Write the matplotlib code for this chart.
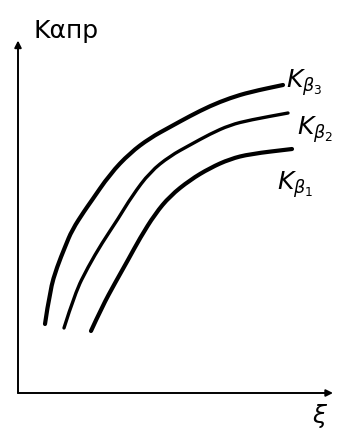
import matplotlib.pyplot as plt
from matplotlib.path import Path
from matplotlib.patches import PathPatch

plt.rcParams['mathtext.fontset'] = 'dejavusans'

# three curves K_alpha_pr(xi) for different K_beta
xi_b3 = [0.9, 1.067, 1.3, 1.567, 1.8, 2.233, 2.4, 3.067, 3.733, 4.4, 5.067,
         5.733, 6.4, 7.067, 7.733, 8.833]
k_b3 = [2.3, 3.433, 4.2, 4.867, 5.433, 6.1, 6.333, 7.3, 8.0, 8.5, 8.867,
        9.233, 9.567, 9.833, 10.033, 10.267]

xi_b2 = [1.533, 1.9, 2.333, 2.8, 3.333, 3.8, 4.4, 5.067, 5.733, 6.4, 7.067,
         7.733, 9.0]
k_b2 = [2.167, 3.333, 4.2, 5.0, 5.8, 6.567, 7.367, 7.9, 8.267, 8.633, 8.933,
        9.1, 9.333]

xi_b1 = [2.433, 2.8, 3.233, 3.667, 4.067, 4.567, 5.067, 5.733, 6.4, 7.067,
         7.733, 9.133]
k_b1 = [2.067, 2.867, 3.667, 4.433, 5.167, 5.967, 6.567, 7.1, 7.5, 7.8,
        7.967, 8.133]


def smooth_curve(ax, xs, ys, lw):
    # quadratic bezier through midpoints, points act as control points
    pts = list(zip(xs, ys))
    verts = [pts[0]]
    codes = [Path.MOVETO]
    for i in range(1, len(pts) - 1):
        mid = ((pts[i][0] + pts[i + 1][0]) / 2, (pts[i][1] + pts[i + 1][1]) / 2)
        verts += [pts[i], mid]
        codes += [Path.CURVE3, Path.CURVE3]
    verts.append(pts[-1])
    codes.append(Path.LINETO)
    ax.add_patch(PathPatch(Path(verts, codes), fill=False, edgecolor='black',
                           lw=lw, capstyle='round', joinstyle='round'))


fig = plt.figure(figsize=(3.37, 4.41), dpi=100)
ax = fig.add_axes([0, 0, 1, 1])
ax.set_xlim(-0.6, 10.633)
ax.set_ylim(-1.6, 13.1)
ax.axis('off')

# axes with arrows
ax.annotate('', xy=(0, 11.75), xytext=(0, 0),
            arrowprops=dict(arrowstyle='-|>', color='black', lw=1.4,
                            mutation_scale=10, shrinkA=0, shrinkB=0))
ax.annotate('', xy=(10.5, 0), xytext=(0, 0),
            arrowprops=dict(arrowstyle='-|>', color='black', lw=1.4,
                            mutation_scale=10, shrinkA=0, shrinkB=0))

smooth_curve(ax, xi_b3, k_b3, 3.0)
smooth_curve(ax, xi_b2, k_b2, 2.4)
smooth_curve(ax, xi_b1, k_b1, 3.0)

ax.text(0.5, 11.83, 'Kαпр', fontsize=18, va='baseline')
ax.text(8.93, 10.17, r'$K_{\beta_3}$', fontsize=18, va='baseline')
ax.text(9.3, 8.6, r'$K_{\beta_2}$', fontsize=18, va='baseline')
ax.text(8.63, 6.77, r'$K_{\beta_1}$', fontsize=18, va='baseline')
ax.text(10.07, -0.77, r'$\xi$', fontsize=18, ha='center', va='center')

fig.savefig('out.png', dpi=100)
